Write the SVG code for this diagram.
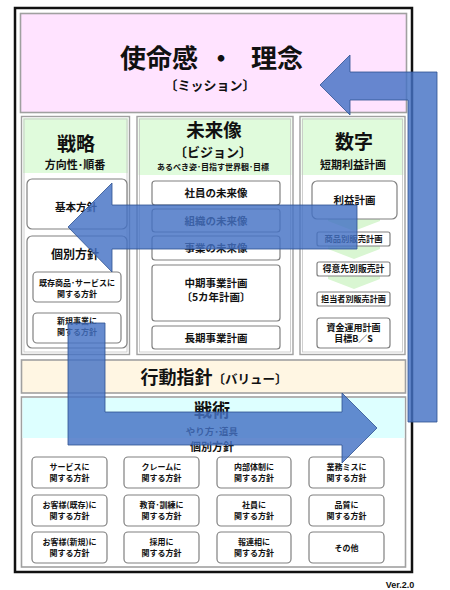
<svg xmlns="http://www.w3.org/2000/svg" width="450" height="590" viewBox="0 0 450 590">
<style>
text{font-family:"Noto Sans CJK JP","Noto Sans",sans-serif;font-weight:bold;fill:#111;text-anchor:middle}
.sec{stroke:#A0A0A0;stroke-width:1.6}
.col{fill:#fff;stroke:#A0A0A0;stroke-width:1.4}
.colin{fill:none;stroke:#C4C4C4;stroke-width:0.8}
.box{fill:#fff;stroke:#808080;stroke-width:1.2}
.hdr{fill:#E0FBDC}
.chev{fill:#D9F6D2}
.arrow{fill:#4472C4;fill-opacity:0.82;stroke:#2F528F;stroke-width:0.8}
.s8{font-size:8px}.s9{font-size:9px}.s10{font-size:10.5px}.s11{font-size:11px}
.t26{font-size:26px}
</style>
<rect width="450" height="590" fill="#fff"/>
<rect x="15" y="8" width="397" height="564" fill="#fff" stroke="#111" stroke-width="2.5"/>

<g id="mission">
<rect class="sec" x="20.5" y="13.5" width="386" height="99" fill="#FFE3FF"/>
<text x="159" y="68" class="t26">使命感</text>
<text x="221" y="68" class="t26">・</text>
<text x="277" y="68" class="t26">理念</text>
<text x="210" y="90" style="font-size:13px">〔ミッション〕</text>
</g>

<g id="strategy">
<rect class="col" x="21.5" y="116.5" width="108" height="238"/>
<rect class="hdr" x="23" y="118" width="105" height="55"/>
<rect class="colin" x="24" y="119" width="103" height="233"/>
<text x="76" y="151" style="font-size:19px">戦略</text>
<text x="75" y="169" class="s11">方向性･順番</text>
<g id="kihon"><rect class="box" x="27" y="179" width="100" height="50" rx="5"/><text x="76" y="211" class="s10">基本方針</text></g>
<g id="kobetsu"><rect class="box" x="27" y="236" width="100" height="112" rx="5"/><text x="75" y="259" style="font-size:12px">個別方針</text>
<g id="kizon"><rect class="box" x="33" y="272" width="88" height="30" rx="4"/><text x="77" y="286" class="s8">既存商品･サービスに</text><text x="77" y="296.5" class="s8">関する方針</text></g>
<g id="shinki"><rect class="box" x="33" y="313" width="88" height="30" rx="4"/><text x="77" y="324" class="s8">新規事業に</text><text x="77" y="335" class="s8">関する方針</text></g>
</g>
</g>

<g id="vision">
<rect class="col" x="137" y="116.5" width="156" height="238"/>
<rect class="hdr" x="138.5" y="118" width="153" height="57"/>
<rect class="colin" x="139.5" y="119" width="151" height="233"/>
<text x="214" y="137" style="font-size:18.5px">未来像</text>
<text x="213" y="157" style="font-size:13px">〔ビジョン〕</text>
<text x="213" y="170" style="font-size:8px">あるべき姿･目指す世界観･目標</text>
<g id="shain"><rect class="box" x="152" y="181" width="128" height="24" rx="3"/><text x="216" y="197" class="s10">社員の未来像</text></g>
<g id="soshiki"><rect class="box" x="152" y="209" width="128" height="23" rx="3"/><text x="216" y="224.5" class="s10">組織の未来像</text></g>
<g id="jigyo"><rect class="box" x="152" y="236" width="128" height="24" rx="3"/><text x="216" y="252" class="s10">事業の未来像</text></g>
<g id="chuki"><rect class="box" x="152" y="265" width="128" height="56" rx="3"/><text x="216" y="287" class="s10">中期事業計画</text><text x="216" y="301" class="s10">〔5カ年計画〕</text></g>
<g id="choki"><rect class="box" x="152" y="326" width="128" height="23" rx="3"/><text x="216" y="341.5" class="s10">長期事業計画</text></g>
</g>

<g id="numbers">
<rect class="col" x="300" y="116.5" width="105" height="238"/>
<rect class="hdr" x="301.5" y="118" width="102" height="57"/>
<rect class="colin" x="302.5" y="119" width="100" height="233"/>
<text x="354" y="149" style="font-size:19px">数字</text>
<text x="353" y="169" class="s11">短期利益計画</text>
<polygon class="chev" points="328,218 380,218 380,221 354,231 328,221"/>
<polygon class="chev" points="328,246 380,246 380,249 354,259 328,249"/>
<polygon class="chev" points="328,276 380,276 380,279 354,289 328,279"/>
<g id="rieki"><rect class="box" x="312" y="181" width="85" height="38" rx="5"/><text x="354.5" y="204" class="s10">利益計画</text></g>
<g id="shohin"><rect class="box" x="317" y="232" width="73" height="14" rx="2"/><text x="353.5" y="242" style="font-size:8.3px">商品別販売計画</text></g>
<g id="tokui"><rect class="box" x="317" y="262" width="73" height="14" rx="2"/><text x="353.5" y="272" style="font-size:8.8px">得意先別販売計</text></g>
<g id="tanto"><rect class="box" x="317" y="292" width="73" height="14" rx="2"/><text x="353.5" y="302" style="font-size:8.1px">担当者別販売計画</text></g>
<g id="shikin"><rect class="box" x="317" y="318" width="73" height="30" rx="3"/><text x="353.5" y="330.5" class="s9">資金運用計画</text><text x="353.5" y="342" class="s9">目標B／S</text></g>
</g>

<g id="value">
<rect class="sec" x="21.5" y="360" width="384" height="33" fill="#FFF6E3"/>
<text x="214" y="383.5" style="font-size:18px">行動指針<tspan style="font-size:12.5px">〔バリュー〕</tspan></text>
</g>

<g id="tactics">
<rect class="sec" x="21.5" y="397" width="384" height="170" fill="#fff"/>
<rect x="22.5" y="398" width="382" height="40" fill="#DDFFFF"/>
<text x="212" y="416.5" style="font-size:18px">戦術</text>
<text x="212" y="435" style="font-size:9.5px">やり方･道具</text>
<text x="212" y="451" class="s11">個別方針</text>
</g>

<g id="grid">
<g id="t1"><rect class="box" x="32" y="457" width="75" height="31" rx="4"/><text x="69.5" y="470" class="s8">サービスに</text><text x="69.5" y="481" class="s8">関する方針</text></g>
<g id="t2"><rect class="box" x="124" y="457" width="75" height="31" rx="4"/><text x="161.5" y="470" class="s8">クレームに</text><text x="161.5" y="481" class="s8">関する方針</text></g>
<g id="t3"><rect class="box" x="217" y="457" width="74" height="31" rx="4"/><text x="254" y="470" class="s8">内部体制に</text><text x="254" y="481" class="s8">関する方針</text></g>
<g id="t4"><rect class="box" x="309" y="457" width="75" height="31" rx="4"/><text x="346.5" y="470" class="s8">業務ミスに</text><text x="346.5" y="481" class="s8">関する方針</text></g>
<g id="t5"><rect class="box" x="32" y="495" width="75" height="31" rx="4"/><text x="69.5" y="508" class="s8">お客様(既存)に</text><text x="69.5" y="519" class="s8">関する方針</text></g>
<g id="t6"><rect class="box" x="124" y="495" width="75" height="31" rx="4"/><text x="161.5" y="508" class="s8">教育･訓練に</text><text x="161.5" y="519" class="s8">関する方針</text></g>
<g id="t7"><rect class="box" x="217" y="495" width="74" height="31" rx="4"/><text x="254" y="508" class="s8">社員に</text><text x="254" y="519" class="s8">関する方針</text></g>
<g id="t8"><rect class="box" x="309" y="495" width="75" height="31" rx="4"/><text x="346.5" y="508" class="s8">品質に</text><text x="346.5" y="519" class="s8">関する方針</text></g>
<g id="t9"><rect class="box" x="32" y="532" width="75" height="31" rx="4"/><text x="69.5" y="545" class="s8">お客様(新規)に</text><text x="69.5" y="556" class="s8">関する方針</text></g>
<g id="t10"><rect class="box" x="124" y="532" width="75" height="31" rx="4"/><text x="161.5" y="545" class="s8">採用に</text><text x="161.5" y="556" class="s8">関する方針</text></g>
<g id="t11"><rect class="box" x="217" y="532" width="74" height="31" rx="4"/><text x="254" y="545" class="s8">報連相に</text><text x="254" y="556" class="s8">関する方針</text></g>
<g id="t12"><rect class="box" x="309" y="532" width="75" height="31" rx="4"/><text x="346.5" y="551" class="s8">その他</text></g>
</g>

<text x="400" y="588" style="font-family:'Liberation Sans',sans-serif;font-size:9px">Ver.2.0</text>

<g id="connectors">
<path class="arrow" d="M437,422 L437,72 L350,72 L350,55 L320,85 L350,115 L350,100 L408,100 L408,422 Z"/>
<path class="arrow" d="M357,205 L112,205 L112,183 L68,227 L112,272 L112,249 L357,249 Z"/>
<path class="arrow" d="M68,323 L105,323 L105,412 L342,412 L342,393 L377,428 L342,463 L342,445 L68,445 Z"/>
</g>
</svg>
